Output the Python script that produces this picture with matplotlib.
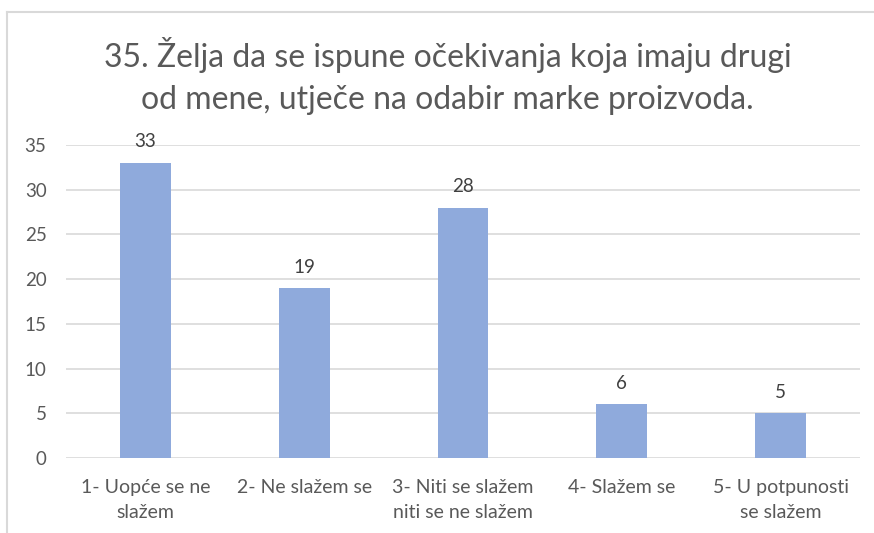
import matplotlib.pyplot as plt
from matplotlib.lines import Line2D

categories = [
    "1- Uopće se ne\nslažem",
    "2- Ne slažem se",
    "3- Niti se slažem\nniti se ne slažem",
    "4- Slažem se",
    "5- U potpunosti\nse slažem",
]
counts = [33, 19, 28, 6, 5]
y_ticks = [0, 5, 10, 15, 20, 25, 30, 35]

title = "35. Želja da se ispune očekivanja koja imaju drugi\nod mene, utječe na odabir marke proizvoda."

plt.rcParams["font.family"] = ["Lato", "DejaVu Sans"]

fig = plt.figure(figsize=(8.74, 5.33), dpi=100)
ax = fig.add_axes([0.0755, 0.1407, 0.9085, 0.5873])

x = range(len(categories))
ax.bar(x, counts, width=0.32, color="#8FAADC", zorder=3)
for xi, v in zip(x, counts):
    ax.annotate(str(v), (xi, v), xytext=(0, 9), textcoords="offset points",
                ha="center", va="bottom", fontsize=13.5, color="#404040")

ax.set_xlim(-0.5, len(categories) - 0.5)
ax.set_ylim(0, 35)
ax.set_yticks(y_ticks)
ax.set_xticks(list(x))
ax.set_xticklabels(categories, fontsize=14, color="#595959", linespacing=1.55)
ax.tick_params(axis="y", labelsize=13.5, labelcolor="#595959", length=0, pad=14)
ax.tick_params(axis="x", length=0, pad=15)
ax.grid(axis="y", color="#D9D9D9", linewidth=1.2, zorder=0)
for s in ax.spines.values():
    s.set_visible(False)

fig.text(0.512, 0.857, title, ha="center", va="center", fontsize=23,
         color="#595959", linespacing=1.5)

# outer chart frame (top and left edges)
fig.add_artist(Line2D([6.5 / 874, 1], [1 - 12 / 533, 1 - 12 / 533],
                      transform=fig.transFigure, color="#D9D9D9", lw=1.5))
fig.add_artist(Line2D([6.5 / 874, 6.5 / 874], [0, 1 - 12 / 533],
                      transform=fig.transFigure, color="#D9D9D9", lw=1.5))

fig.savefig("out.png", dpi=100)
